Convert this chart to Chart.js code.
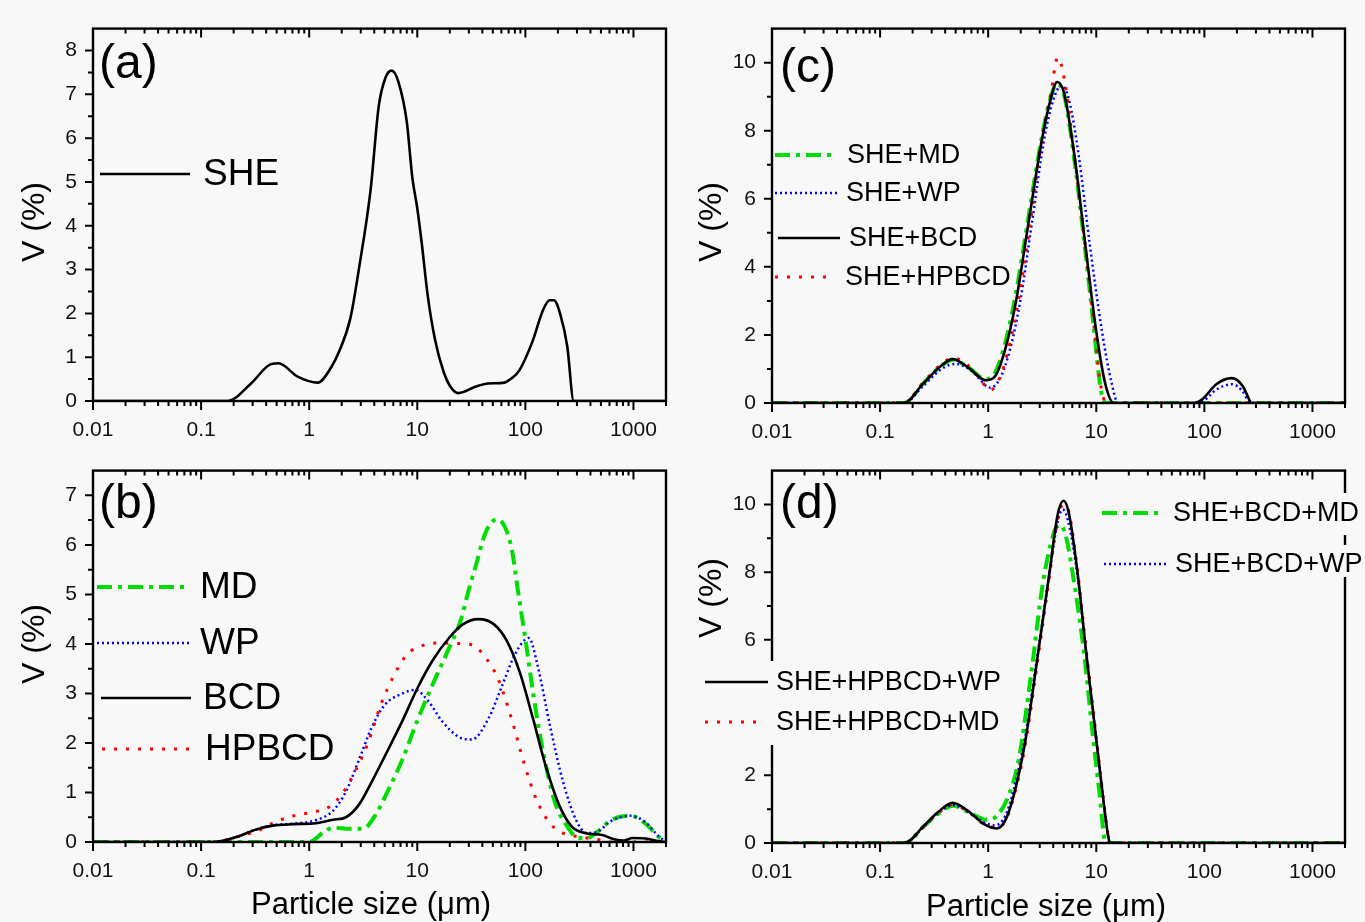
<!DOCTYPE html>
<html>
<head>
<meta charset="utf-8">
<title>Particle size distribution</title>
<script src="https://cdn.jsdelivr.net/npm/chart.js@4.4.0/dist/chart.umd.min.js"></script>
<style>
    body { margin: 0; background: #f8f8f8; }
    #wrap { position: relative; width: 1365px; height: 922px; overflow: hidden; }
    canvas { position: absolute; }
</style>
</head>
<body>
<div id="wrap">
    <canvas id="pa" width="683" height="442" style="left:0;top:0"></canvas>
    <canvas id="pc" width="682" height="442" style="left:683px;top:0"></canvas>
    <canvas id="pb" width="683" height="480" style="left:0;top:442px"></canvas>
    <canvas id="pd" width="682" height="480" style="left:683px;top:442px"></canvas>
</div>
<script>
// ---- tick labels ----
const X_LABELS = [0.01, 0.1, 1, 10, 100, 1000];
const Y_LABELS_A = [0, 1, 2, 3, 4, 5, 6, 7, 8];
const Y_LABELS_B = [0, 1, 2, 3, 4, 5, 6, 7];
const Y_LABELS_CD = [0, 2, 4, 6, 8, 10];

// ---- (a) SHE ----
const sheX = [0.01, 0.175, 0.29, 0.42, 0.52, 0.79, 1.2, 1.6, 1.9, 2.4, 2.9, 3.7, 4.4, 5.1, 5.8, 6.7, 8.0, 9.0, 10, 11, 12.5, 14.6, 17.6, 20, 24, 35, 45, 64, 73, 88, 116, 147, 168, 184, 212, 244, 280, 2000];
const sheY = [0, 0, 0.4, 0.81, 0.86, 0.55, 0.42, 0.77, 1.14, 1.88, 3.05, 4.82, 6.73, 7.39, 7.54, 7.28, 6.37, 5.1, 4.4, 3.6, 2.4, 1.4, 0.65, 0.35, 0.18, 0.33, 0.4, 0.42, 0.5, 0.7, 1.35, 2.1, 2.3, 2.3, 1.95, 1.25, 0, 0];

// ---- (b) carriers ----
const mdX = [0.01, 1.0, 1.38, 1.66, 2.19, 3.16, 4.17, 5.5, 7.3, 10, 14, 20, 25, 30, 35, 42, 50, 56, 65, 75, 85, 100, 120, 141, 186, 245, 309, 372, 468, 617, 933, 1290, 1700, 2000];
const mdY = [0, 0, 0.21, 0.29, 0.27, 0.27, 0.57, 1.09, 1.67, 2.45, 3.2, 3.95, 4.45, 5.1, 5.6, 6.2, 6.48, 6.51, 6.35, 5.9, 5.1, 4.1, 2.9, 1.99, 0.83, 0.31, 0.08, 0.08, 0.21, 0.44, 0.53, 0.37, 0.11, 0];
const wpX = [0.01, 0.13, 0.22, 0.31, 0.46, 0.72, 1.15, 1.66, 2.19, 2.9, 3.8, 5.0, 7.3, 9.6, 12.7, 16.8, 24.3, 32, 46, 61, 81, 108, 128, 170, 223, 295, 372, 468, 617, 933, 1290, 1700, 2000];
const wpY = [0, 0, 0.11, 0.24, 0.34, 0.37, 0.44, 0.63, 1.02, 1.67, 2.32, 2.77, 3.0, 3.07, 2.84, 2.45, 2.12, 2.07, 2.51, 3.16, 3.81, 4.12, 3.62, 2.32, 1.22, 0.44, 0.18, 0.21, 0.42, 0.53, 0.4, 0.12, 0];
const bcdX = [0.01, 0.13, 0.22, 0.31, 0.46, 0.72, 1.15, 1.66, 2.19, 2.9, 3.8, 5.0, 7.3, 10, 14, 20, 26.6, 36.8, 51, 67, 89, 117, 154, 204, 269, 355, 513, 675, 820, 980, 1290, 1700, 2000];
const bcdY = [0, 0, 0.11, 0.24, 0.33, 0.36, 0.38, 0.45, 0.5, 0.76, 1.22, 1.73, 2.45, 3.1, 3.68, 4.14, 4.4, 4.5, 4.4, 4.07, 3.42, 2.51, 1.54, 0.76, 0.31, 0.18, 0.14, 0.05, 0.03, 0.08, 0.07, 0.02, 0];
const hpX = [0.01, 0.13, 0.22, 0.345, 0.48, 0.72, 1.05, 1.51, 2.0, 2.64, 3.5, 4.6, 6.07, 8.0, 11.6, 16.8, 22, 32, 42, 56, 74, 97, 128, 170, 223, 324, 468, 617, 2000];
const hpY = [0, 0, 0.11, 0.24, 0.4, 0.53, 0.6, 0.7, 0.96, 1.41, 2.0, 2.77, 3.36, 3.78, 3.98, 4.02, 4.01, 3.98, 3.75, 3.29, 2.51, 1.6, 0.83, 0.37, 0.18, 0.1, 0.05, 0, 0];

// ---- (c) binary mixtures ----
const cMdX = [0.01, 0.167, 0.25, 0.37, 0.47, 0.65, 0.95, 1.14, 1.42, 1.8, 2.37, 3.13, 3.8, 4.3, 5.0, 6.3, 7.9, 9.5, 11, 12.3, 2000];
const cMdY = [0, 0, 0.57, 1.1, 1.27, 1.05, 0.7, 0.85, 1.7, 3.2, 5.5, 7.8, 9.0, 9.37, 9.1, 7.1, 4.5, 2.2, 0.4, 0, 0];
const cWpX = [0.01, 0.167, 0.25, 0.37, 0.5, 0.7, 1.05, 1.3, 1.6, 1.97, 2.55, 3.28, 4.0, 4.77, 5.6, 6.9, 8.7, 11.3, 13.9, 15.9, 85, 100, 130, 180, 225, 255, 265, 2000];
const cWpY = [0, 0, 0.5, 1.0, 1.15, 0.95, 0.45, 0.75, 1.6, 2.95, 5.33, 7.71, 8.9, 9.33, 8.9, 7.24, 4.67, 2.1, 0.57, 0, 0, 0.08, 0.4, 0.55, 0.35, 0.05, 0, 0];
const cBcdX = [0.01, 0.167, 0.25, 0.37, 0.47, 0.65, 0.95, 1.14, 1.42, 1.8, 2.37, 3.13, 3.8, 4.34, 5.0, 6.3, 7.9, 10, 12.1, 14.5, 81, 95, 129, 179, 226, 260, 270, 2000];
const cBcdY = [0, 0, 0.57, 1.1, 1.29, 1.05, 0.67, 0.76, 1.52, 2.95, 5.33, 7.71, 8.95, 9.43, 9.14, 7.24, 4.67, 2.1, 0.57, 0, 0, 0.1, 0.55, 0.73, 0.5, 0.1, 0, 0];
const cHpX = [0.01, 0.167, 0.25, 0.37, 0.47, 0.6, 0.8, 1.05, 1.3, 1.6, 2.0, 2.5, 3.13, 3.8, 4.4, 5.2, 6.3, 7.9, 9.5, 11, 12.5, 2000];
const cHpY = [0, 0, 0.6, 1.15, 1.32, 1.2, 0.8, 0.38, 0.8, 1.8, 3.4, 5.5, 7.7, 9.1, 10.15, 9.3, 7.2, 4.6, 2.3, 0.5, 0, 0];

// ---- (d) ternary mixtures ----
const dBcdMdX = [0.01, 0.168, 0.256, 0.34, 0.47, 0.65, 1.0, 1.2, 1.5, 1.9, 2.5, 3.18, 4.0, 4.6, 5.2, 6.3, 7.7, 9.2, 10.5, 12.3, 2000];
const dBcdMdY = [0, 0, 0.5, 0.85, 1.1, 0.92, 0.68, 0.8, 1.3, 2.4, 5.0, 7.6, 9.1, 9.4, 9.1, 7.6, 5.62, 3.3, 1.71, 0, 0];
const dBcdWpX = [0.01, 0.168, 0.256, 0.34, 0.47, 0.65, 0.9, 1.15, 1.44, 1.73, 2.19, 2.9, 3.66, 4.4, 4.9, 5.5, 6.7, 8.07, 9.7, 11.2, 12.9, 13.4, 2000];
const dBcdWpY = [0, 0, 0.5, 0.86, 1.12, 0.92, 0.62, 0.52, 0.8, 1.6, 3.1, 5.7, 7.9, 9.5, 9.85, 9.5, 7.9, 5.6, 3.4, 1.7, 0.2, 0, 0];
const dHpWpX = [0.01, 0.168, 0.256, 0.34, 0.47, 0.65, 0.9, 1.19, 1.44, 1.73, 2.19, 2.9, 3.66, 4.4, 4.97, 5.56, 6.7, 8.07, 9.7, 11.2, 12.9, 13.4, 2000];
const dHpWpY = [0, 0, 0.52, 0.9, 1.19, 0.95, 0.57, 0.43, 0.67, 1.43, 2.95, 5.62, 7.9, 9.71, 10.11, 9.76, 8.0, 5.62, 3.43, 1.71, 0.19, 0, 0];
const dHpMdX = [0.01, 0.168, 0.256, 0.34, 0.47, 0.65, 0.9, 1.19, 1.44, 1.73, 2.19, 2.9, 3.66, 4.4, 5.0, 5.6, 6.7, 8.07, 9.7, 11.2, 12.9, 13.4, 2000];
const dHpMdY = [0, 0, 0.5, 0.87, 1.14, 0.93, 0.57, 0.45, 0.65, 1.38, 2.85, 5.5, 7.8, 9.6, 10.0, 9.75, 8.05, 5.7, 3.5, 1.75, 0.2, 0, 0];

const FONT = '"Liberation Sans", Arial, sans-serif';
const BG = '#f8f8f8';

// Linienstile wie im Origin-Original
const STYLE = {
    green: { borderColor: '#00dd00', borderWidth: 4, borderDash: [15, 6, 4, 6], order: 3 },
    blue: { borderColor: '#0000ff', borderWidth: 2.5, borderDash: [2, 3], order: 2 },
    black: { borderColor: '#000000', borderWidth: 2.6, borderDash: [], order: 0 },
    red: { borderColor: '#ff0000', borderWidth: 3, borderDash: [3, 9], order: 1 }
};

function series(label, xs, ys, style) {
    return {
        label,
        data: xs.map((x, i) => ({ x, y: ys[i] })),
        ...STYLE[style],
        pointRadius: 0,
        fill: false,
        cubicInterpolationMode: 'monotone',
        borderCapStyle: 'butt'
    };
}

// Rahmen, Ticks, Legende und Beschriftungen
const decorPlugin = {
    id: 'decor',
    afterDraw(chart) {
        const p = chart.options.plugins.decor;
        const { ctx, chartArea: a, scales: { x, y } } = chart;
        ctx.save();
        ctx.strokeStyle = '#000';
        ctx.lineWidth = 2.4;
        ctx.setLineDash([]);
        ctx.strokeRect(a.left, a.top, a.right - a.left, a.bottom - a.top);

        ctx.lineWidth = 2;
        ctx.beginPath();
        for (let e = -2; e <= 3; e++) {
            for (let k = 1; k <= 9; k++) {
                const v = k * Math.pow(10, e);
                if (v > x.max) break;
                const px = x.getPixelForValue(v);
                const len = k === 1 ? 9 : 5;
                ctx.moveTo(px, a.bottom); ctx.lineTo(px, a.bottom + len);
                ctx.moveTo(px, a.top); ctx.lineTo(px, a.top + len);
            }
        }
        for (let v = 0; v < y.max - 1e-6; v += p.yMinor) {
            const py = y.getPixelForValue(v);
            const major = Math.abs(v / p.yMajor - Math.round(v / p.yMajor)) < 1e-6;
            ctx.moveTo(a.left, py); ctx.lineTo(a.left - (major ? 8 : 5), py);
        }
        ctx.stroke();

        // Legende verdeckt im Original teilweise die Achsen
        ctx.fillStyle = BG;
        (p.covers || []).forEach(c => ctx.fillRect(c[0], c[1], c[2] - c[0], c[3] - c[1]));

        ctx.fillStyle = '#000';
        ctx.textBaseline = 'middle';
        ctx.textAlign = 'left';
        p.legend.forEach(item => {
            const ds = chart.data.datasets[item.i];
            ctx.strokeStyle = ds.borderColor;
            ctx.lineWidth = ds.borderWidth;
            ctx.setLineDash(ds.borderDash);
            ctx.beginPath();
            ctx.moveTo(item.x1, item.y);
            ctx.lineTo(item.x2, item.y);
            ctx.stroke();
            ctx.font = `${item.size}px ${FONT}`;
            ctx.fillText(ds.label, item.tx, item.y + 1);
        });
        ctx.setLineDash([]);

        ctx.textBaseline = 'alphabetic';
        ctx.font = `48px ${FONT}`;
        ctx.fillText(p.tag, p.tagX, p.tagY);

        ctx.font = `31px ${FONT}`;
        ctx.textAlign = 'center';
        if (p.xTitle) {
            ctx.fillText('Particle size (\u03bcm)', p.xTitleX, p.xTitleY);
        }
        ctx.font = `32px ${FONT}`;
        ctx.translate(p.yTitleX, p.yTitleY);
        ctx.rotate(-Math.PI / 2);
        ctx.textBaseline = 'middle';
        ctx.fillText('V (%)', 0, 0);
        ctx.restore();
    }
};

function makePanel(id, cfg) {
    const canvas = document.getElementById(id);
    return new Chart(canvas.getContext('2d'), {
        type: 'line',
        data: { datasets: cfg.datasets },
        options: {
            responsive: false,
            animation: false,
            layout: { padding: { top: 17, right: cfg.padRight, left: 0, bottom: 0 } },
            plugins: {
                legend: { display: false },
                tooltip: { enabled: false },
                decor: cfg.decor
            },
            scales: {
                x: {
                    type: 'logarithmic',
                    min: 0.01,
                    max: 2000,
                    grid: { display: false, drawTicks: false },
                    border: { display: false },
                    afterBuildTicks: s => { s.ticks = X_LABELS.map(v => ({ value: v })); },
                    afterFit: s => { s.height = cfg.xHeight; },
                    ticks: {
                        autoSkip: false,
                        maxRotation: 0,
                        padding: 17,
                        color: '#111',
                        font: { family: FONT, size: 21 },
                        callback: v => String(v)
                    }
                },
                y: {
                    type: 'linear',
                    min: 0,
                    max: cfg.ymax,
                    grid: { display: false, drawTicks: false },
                    border: { display: false },
                    afterBuildTicks: s => { s.ticks = cfg.yLabels.map(v => ({ value: v })); },
                    afterFit: s => { s.width = cfg.yWidth; },
                    ticks: {
                        padding: 16,
                        color: '#111',
                        font: { family: FONT, size: 21 },
                        callback: v => String(v)
                    }
                }
            }
        },
        plugins: [decorPlugin]
    });
}

makePanel('pa', {
    ymax: 8.5, yLabels: Y_LABELS_A, yWidth: 93, xHeight: 41, padRight: 17,
    datasets: [series('SHE', sheX, sheY, 'black')],
    decor: {
        yMajor: 1, yMinor: 0.5, tag: '(a)', tagX: 99, tagY: 78,
        yTitleX: 35, yTitleY: 222,
        legend: [{ i: 0, x1: 100, x2: 190, tx: 203, y: 174, size: 37 }]
    }
});

makePanel('pb', {
    ymax: 7.5, yLabels: Y_LABELS_B, yWidth: 93, xHeight: 80, padRight: 17,
    datasets: [
        series('MD', mdX, mdY, 'green'),
        series('WP', wpX, wpY, 'blue'),
        series('BCD', bcdX, bcdY, 'black'),
        series('HPBCD', hpX, hpY, 'red')
    ],
    decor: {
        yMajor: 1, yMinor: 0.5, tag: '(b)', tagX: 99, tagY: 76,
        yTitleX: 35, yTitleY: 202, xTitle: true, xTitleX: 371, xTitleY: 472,
        legend: [
            { i: 0, x1: 97, x2: 185, tx: 200, y: 145, size: 37 },
            { i: 1, x1: 97, x2: 189, tx: 200, y: 201, size: 37 },
            { i: 2, x1: 101, x2: 191, tx: 203, y: 256, size: 37 },
            { i: 3, x1: 102, x2: 190, tx: 205, y: 307, size: 37 }
        ]
    }
});

makePanel('pc', {
    ymax: 11, yLabels: Y_LABELS_CD, yWidth: 89, xHeight: 39, padRight: 20,
    datasets: [
        series('SHE+MD', cMdX, cMdY, 'green'),
        series('SHE+WP', cWpX, cWpY, 'blue'),
        series('SHE+BCD', cBcdX, cBcdY, 'black'),
        series('SHE+HPBCD', cHpX, cHpY, 'red')
    ],
    decor: {
        yMajor: 2, yMinor: 1, tag: '(c)', tagX: 97, tagY: 82,
        yTitleX: 29, yTitleY: 222,
        legend: [
            { i: 0, x1: 92, x2: 150, tx: 164, y: 155, size: 27 },
            { i: 1, x1: 92, x2: 155, tx: 163, y: 193, size: 27 },
            { i: 2, x1: 95, x2: 157, tx: 166, y: 238, size: 27 },
            { i: 3, x1: 92, x2: 145, tx: 162, y: 277, size: 27 }
        ]
    }
});

makePanel('pd', {
    ymax: 11, yLabels: Y_LABELS_CD, yWidth: 89, xHeight: 79, padRight: 20,
    datasets: [
        series('SHE+BCD+MD', dBcdMdX, dBcdMdY, 'green'),
        series('SHE+BCD+WP', dBcdWpX, dBcdWpY, 'blue'),
        series('SHE+HPBCD+WP', dHpWpX, dHpWpY, 'black'),
        series('SHE+HPBCD+MD', dHpMdX, dHpMdY, 'red')
    ],
    decor: {
        yMajor: 2, yMinor: 1, tag: '(d)', tagX: 97, tagY: 76,
        yTitleX: 29, yTitleY: 156, xTitle: true, xTitleX: 363, xTitleY: 474,
        covers: [[14, 219, 325, 303], [412, 51, 682, 93], [412, 103, 682, 135]],
        legend: [
            { i: 0, x1: 419, x2: 475, tx: 490, y: 71, size: 27 },
            { i: 1, x1: 421, x2: 484, tx: 492, y: 122, size: 27 },
            { i: 2, x1: 22, x2: 85, tx: 93, y: 240, size: 27 },
            { i: 3, x1: 22, x2: 79, tx: 93, y: 280, size: 27 }
        ]
    }
});
</script>
</body>
</html>
